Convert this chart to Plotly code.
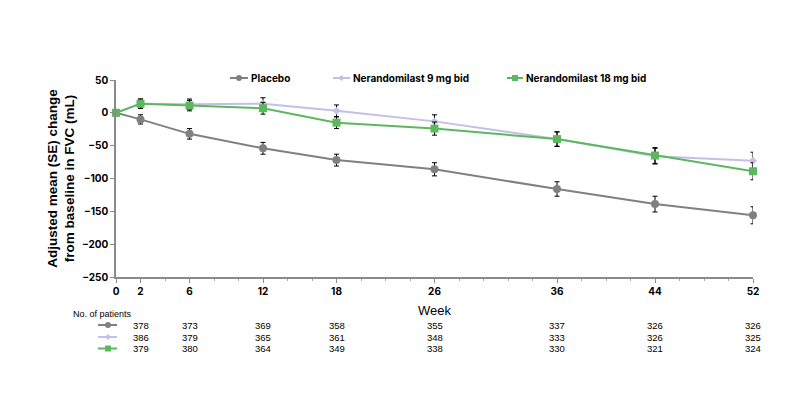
import plotly.graph_objects as go

weeks = [0, 2, 6, 12, 18, 26, 36, 44, 52]
placebo = [0, -10, -32, -54, -72, -86, -116, -139, -156]
placebo_se = [0, 7, 8, 9, 9, 10, 11, 12, 13]
ner9 = [0, 14, 13, 14, 3, -13, -40, -66, -73]
ner9_se = [0, 7, 8, 9, 9, 10, 11, 12, 13]
ner18 = [0, 14, 11, 7, -15, -24, -40, -65, -89]
ner18_se = [0, 7, 8, 9, 9, 10, 11, 12, 13]

table_weeks = [2, 6, 12, 18, 26, 36, 44, 52]
n_placebo = [378, 373, 369, 358, 355, 337, 326, 326]
n_ner9 = [386, 379, 365, 361, 348, 333, 326, 325]
n_ner18 = [379, 380, 364, 349, 338, 330, 321, 324]

yticks = [50, 0, -50, -100, -150, -200, -250]
series_names = ["Placebo", "Nerandomilast 9 mg bid", "Nerandomilast 18 mg bid"]

C_PLA = "#808080"
C_9 = "#c4bfe6"
C_18 = "#5cb85f"
FONT = "Inter"
TFONT = "Liberation Sans"

fig = go.Figure()

def add(name, y, se, color, symbol, size):
    fig.add_trace(go.Scatter(
        x=weeks, y=y, name=name, mode="lines+markers",
        line=dict(color=color, width=2),
        marker=dict(color=color, symbol=symbol, size=size),
        error_y=dict(type="data", array=se, color="black", thickness=1, width=2.5),
        cliponaxis=False, showlegend=False,
    ))

add(series_names[0], placebo, placebo_se, C_PLA, "circle", 8)
add(series_names[1], ner9, ner9_se, C_9, "diamond", 6)
add(series_names[2], ner18, ner18_se, C_18, "square", 8)

# pixel -> paper helpers (plot area: x 116..753, y 80..277)
L, R, T, B = 116, 753, 80, 277
def px(x):
    return (x - L) / (R - L)
def py(y):
    return (B - y) / (B - T)

annotations = []
shapes = []

def symbol_shapes(xc, yc, col, sym, x0, x1, r=3.2):
    shapes.append(dict(type="line", xref="paper", yref="paper", x0=px(x0), x1=px(x1),
                       y0=py(yc), y1=py(yc), line=dict(color=col, width=2)))
    if sym == "square":
        shapes.append(dict(type="rect", xref="paper", yref="paper", x0=px(xc - r), x1=px(xc + r),
                           y0=py(yc + r), y1=py(yc - r), fillcolor=col, line=dict(width=0)))
    elif sym == "circle":
        shapes.append(dict(type="circle", xref="paper", yref="paper", x0=px(xc - r), x1=px(xc + r),
                           y0=py(yc + r), y1=py(yc - r), fillcolor=col, line=dict(width=0)))
    else:
        path = "M {} {} L {} {} L {} {} L {} {} Z".format(
            px(xc - r), py(yc), px(xc), py(yc - r), px(xc + r), py(yc), px(xc), py(yc + r))
        shapes.append(dict(type="path", xref="paper", yref="paper", path=path,
                           fillcolor=col, line=dict(width=0)))

# legend (manual)
leg = [(230, 248, C_PLA, "circle"), (333, 350, C_9, "diamond"), (507, 523, C_18, "square")]
for (x0, x1, col, sym), name in zip(leg, series_names):
    symbol_shapes((x0 + x1) / 2, 78, col, sym, x0, x1, r=3)
    annotations.append(dict(text="<b>" + name + "</b>", xref="paper", yref="paper",
                            x=px(x1 + 1), y=py(78), xanchor="left", yanchor="middle",
                            showarrow=False, font=dict(family=FONT, size=10, color="black")))

# x-axis title
annotations.append(dict(text="Week", xref="paper", yref="paper", x=0.5, y=py(310),
                        xanchor="center", yanchor="middle", showarrow=False,
                        font=dict(family=TFONT, size=13, color="black")))

# patients table
annotations.append(dict(text="No. of patients", xref="paper", yref="paper",
                        x=px(71), y=py(314), xanchor="left", yanchor="middle",
                        showarrow=False, font=dict(family=TFONT, size=9, color="black")))
rows = [(n_placebo, 325, C_PLA, "circle"), (n_ner9, 337, C_9, "diamond"), (n_ner18, 348.5, C_18, "square")]
for vals, yr, col, sym in rows:
    symbol_shapes(108, yr, col, sym, 98, 117, r=3)
    for w, v in zip(table_weeks, vals):
        annotations.append(dict(text=str(v), xref="x", yref="paper", x=w, y=py(yr),
                                xanchor="center", yanchor="middle", showarrow=False,
                                font=dict(family=TFONT, size=9.5, color="black")))

fig.update_layout(
    width=800, height=398,
    margin=dict(l=L, r=800 - R, t=T, b=398 - B),
    paper_bgcolor="white", plot_bgcolor="white",
    font=dict(family=FONT, color="black"),
    showlegend=False,
    xaxis=dict(range=[0, 52], tickmode="array", tickvals=weeks, ticktext=[str(w) for w in weeks],
               showgrid=False, zeroline=False, showline=True, linecolor="#8a8a8a", linewidth=1.5,
               ticks="outside", ticklen=4, tickcolor="#8a8a8a",
               minor=dict(dtick=2, tick0=0, ticks="outside", ticklen=2, tickcolor="#aaaaaa"),
               tickfont=dict(family=FONT, size=10, color="black", weight="bold")),
    yaxis=dict(range=[-250, 50], tickmode="array", tickvals=yticks,
               showgrid=False, zeroline=False, showline=True, linecolor="#8a8a8a", linewidth=1.5,
               ticks="outside", ticklen=4, tickcolor="#8a8a8a",
               tickfont=dict(family=FONT, size=10, color="black", weight="bold"),
               title=dict(text="Adjusted mean (SE) change<br>from baseline in FVC (mL)", standoff=4,
                          font=dict(family=TFONT, size=13.5, color="black", weight="bold"))),
    annotations=annotations,
    shapes=shapes,
)

fig.write_html("out.html", config={"displayModeBar": False},
               post_script="document.body.style.margin='0px';")
